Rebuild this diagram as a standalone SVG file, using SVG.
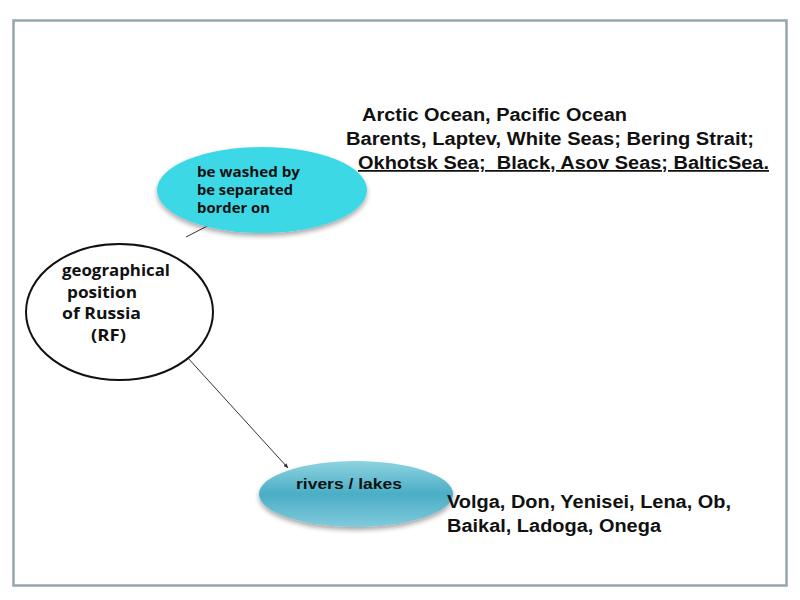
<svg xmlns="http://www.w3.org/2000/svg" width="800" height="600" viewBox="0 0 800 600">
<defs>
<style>
.frame{fill:#fff;stroke:#95a7aa;stroke-width:2.5}
.big{font-family:"Liberation Sans",Arial,sans-serif;font-size:17.5px;font-weight:bold;fill:#111}
.small{font-family:"Open Sans","DejaVu Sans",sans-serif;font-size:14px;font-weight:bold;fill:#111}
.mid{font-family:"Open Sans","DejaVu Sans",sans-serif;font-size:15.5px;font-weight:bold;fill:#111}
.riv{font-family:"Liberation Sans",Arial,sans-serif;font-size:15px;font-weight:bold;fill:#111}
.conn{stroke:#333;stroke-width:1;fill:none;marker-end:url(#arr)}
</style>
<marker id="arr" viewBox="0 0 10 10" refX="9" refY="5" markerWidth="5" markerHeight="5" orient="auto"><path d="M0,1 L10,5 L0,9 z" fill="#333"/></marker>
<filter id="sh" x="-20%" y="-20%" width="140%" height="150%"><feGaussianBlur in="SourceAlpha" stdDeviation="2.5"/><feOffset dx="0" dy="3"/><feComponentTransfer><feFuncA type="linear" slope="0.35"/></feComponentTransfer><feMerge><feMergeNode/><feMergeNode in="SourceGraphic"/></feMerge></filter>
<linearGradient id="rg" x1="0" y1="0" x2="0" y2="1"><stop offset="0" stop-color="#8ed3e0"/><stop offset="0.5" stop-color="#4aaec6"/><stop offset="1" stop-color="#80cadb"/></linearGradient>
</defs>
<rect x="0" y="0" width="800" height="600" fill="#fff"/>
<rect class="frame" x="13.5" y="20.5" width="773" height="565"/>
<g id="connectors">
<line class="conn" x1="186" y1="237" x2="219" y2="220"/>
<line class="conn" x1="187" y1="357" x2="288" y2="468"/>
</g>
<g id="node-center">
<ellipse cx="119.5" cy="312" rx="93.5" ry="68" fill="#fff" stroke="#111" stroke-width="2"/>
<text class="mid" x="62" y="276" textLength="108" lengthAdjust="spacingAndGlyphs">geographical</text>
<text class="mid" x="67" y="298" textLength="70" lengthAdjust="spacingAndGlyphs">position</text>
<text class="mid" x="62" y="319" textLength="79" lengthAdjust="spacingAndGlyphs">of Russia</text>
<text class="mid" x="91" y="341" textLength="35" lengthAdjust="spacingAndGlyphs">(RF)</text>
</g>
<g id="node-washed">
<ellipse cx="262" cy="190" rx="105" ry="43" fill="#3dd8e6" filter="url(#sh)"/>
<text class="small" x="197" y="177" textLength="103" lengthAdjust="spacingAndGlyphs">be washed by</text>
<text class="small" x="197" y="195" textLength="96" lengthAdjust="spacingAndGlyphs">be separated</text>
<text class="small" x="197" y="213" textLength="73" lengthAdjust="spacingAndGlyphs">border on</text>
</g>
<g id="node-rivers">
<ellipse cx="356" cy="494" rx="97" ry="33" fill="url(#rg)" filter="url(#sh)"/>
<text class="riv" x="296" y="489" textLength="106" lengthAdjust="spacingAndGlyphs">rivers / lakes</text>
</g>
<g id="text-seas">
<text class="big" x="362" y="121" textLength="265" lengthAdjust="spacingAndGlyphs">Arctic Ocean, Pacific Ocean</text>
<text class="big" x="346" y="145" textLength="408" lengthAdjust="spacingAndGlyphs">Barents, Laptev, White Seas; Bering Strait;</text>
<text class="big" x="358" y="169" textLength="411" lengthAdjust="spacingAndGlyphs" text-decoration="underline" xml:space="preserve" style="white-space:pre">Okhotsk Sea;  Black, Asov Seas; BalticSea.</text>
</g>
<g id="text-rivers">
<text class="big" x="447" y="508" textLength="284" lengthAdjust="spacingAndGlyphs">Volga, Don, Yenisei, Lena, Ob,</text>
<text class="big" x="447" y="532" textLength="214" lengthAdjust="spacingAndGlyphs">Baikal, Ladoga, Onega</text>
</g>
</svg>
